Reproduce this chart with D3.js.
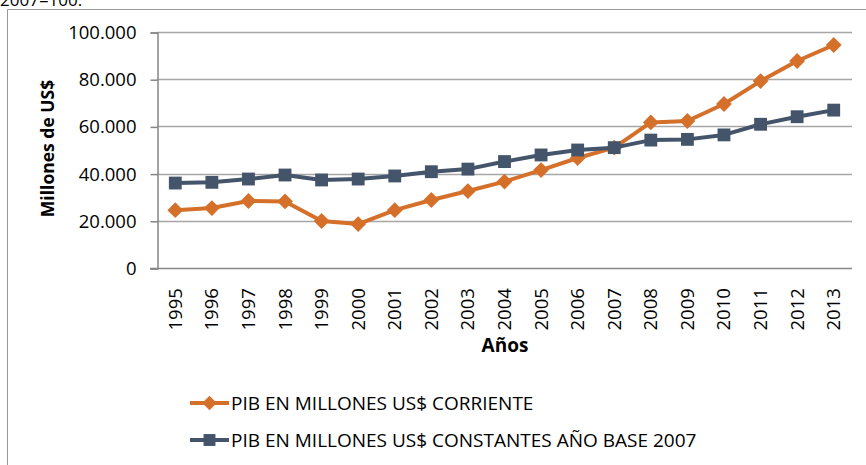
<!DOCTYPE html>
<html lang="es">
<head>
<meta charset="UTF-8">
<script src="https://d3js.org/d3.v7.min.js"></script>
<style>
  body { margin: 0; padding: 0; background: #fff; font-family: "Open Sans", Arial, sans-serif; }
  #chart { width: 866px; height: 465px; }
</style>
</head>
<body>
<div id="chart"></div>
<script>
  // data (millones de US$)
  const years = ["1995","1996","1997","1998","1999","2000","2001","2002","2003","2004",
                 "2005","2006","2007","2008","2009","2010","2011","2012","2013"];
  const corriente = [24.5, 25.4, 28.4, 28.2, 19.9, 18.6, 24.5, 28.8, 32.6, 36.6,
                     41.5, 46.6, 51.0, 61.7, 62.3, 69.5, 79.2, 87.7, 94.5].map(v => v * 1000);
  const constantes = [36.0, 36.3, 37.7, 39.4, 37.3, 37.7, 39.0, 40.8, 41.9, 45.1,
                      47.9, 50.0, 51.0, 54.2, 54.5, 56.4, 60.9, 64.1, 66.9].map(v => v * 1000);
  const yTicks = [0, 20000, 40000, 60000, 80000, 100000];
  const seriesNames = ["PIB EN MILLONES US$ CORRIENTE", "PIB EN MILLONES US$ CONSTANTES AÑO BASE 2007"];

  const width = 866, height = 465;
  const orange = "#D5702B", slate = "#44546A";
  const font = "'Open Sans', Arial, sans-serif";

  const svg = d3.select("#chart").append("svg")
    .attr("width", width).attr("height", height)
    .attr("font-family", font);

  // caption cut off at the top (it is cut in the original too)
  svg.append("text").attr("x", 0).attr("y", 6)
    .attr("font-size", 17).attr("fill", "#000").text("2007=100.");

  // outer frame
  svg.append("path")
    .attr("d", `M7.5,${height} V9.5 H${width}`)
    .attr("fill", "none").attr("stroke", "#9a9a9a").attr("stroke-width", 1);

  const x = d3.scaleBand().domain(years).range([157, 852]);
  const y = d3.scaleLinear().domain([0, 100000]).range([268, 32]);

  const fmt = d => d === 0 ? "0" : d3.format(",")(d).replace(/,/g, ".");

  // gridlines
  svg.append("g").selectAll("line").data(yTicks.filter(d => d > 0)).enter()
    .append("line")
    .attr("x1", 157).attr("x2", 852)
    .attr("y1", d => Math.round(y(d)) + 0.5).attr("y2", d => Math.round(y(d)) + 0.5)
    .attr("stroke", "#a6a6a6").attr("stroke-width", 1.3);

  // y axis
  const yAxis = svg.append("g").attr("transform", "translate(157.5,0.5)")
    .call(d3.axisLeft(y).tickValues(yTicks).tickFormat(fmt).tickSize(7).tickPadding(14));
  yAxis.select(".domain").attr("stroke", "#868686").attr("stroke-width", 1.5);
  yAxis.selectAll(".tick line").attr("stroke", "#868686").attr("stroke-width", 1.5);
  yAxis.selectAll(".tick text").attr("font-size", 18.5).attr("fill", "#000")
    .attr("font-family", font);

  // x axis, years rotated
  const xAxis = svg.append("g").attr("transform", "translate(0,268.5)")
    .call(d3.axisBottom(x).tickSize(0).tickPadding(0));
  xAxis.select(".domain").attr("d", "M150,0H852").attr("stroke", "#868686").attr("stroke-width", 1.5);
  xAxis.selectAll(".tick text")
    .attr("font-size", 18.5).attr("fill", "#000")
    .attr("font-family", font)
    .attr("text-anchor", "start")
    .attr("dy", "0.35em").attr("x", 0).attr("y", 0)
    .attr("transform", "translate(0,62) rotate(-90)");

  // axis titles
  svg.append("text").attr("transform", "translate(54,148.5) rotate(-90)")
    .attr("text-anchor", "middle").attr("font-size", 17.5).attr("font-weight", "bold")
    .text("Millones de US$");
  svg.append("text").attr("x", 505).attr("y", 352)
    .attr("text-anchor", "middle").attr("font-size", 19).attr("font-weight", "bold")
    .text("Años");

  const cx = d => x(d) + x.bandwidth() / 2;
  const line = d3.line().x(d => cx(d.year)).y(d => y(d.value));
  const diamond = d3.symbol().type(d3.symbolDiamond2).size(160);
  const square = d3.symbol().type(d3.symbolSquare2).size(210);

  function drawSeries(values, color, sym) {
    const pts = years.map((yr, i) => ({ year: yr, value: values[i] }));
    svg.append("path").datum(pts).attr("d", line)
      .attr("fill", "none").attr("stroke", color).attr("stroke-width", 4)
      .attr("stroke-linejoin", "round");
    svg.append("g").selectAll("path").data(pts).enter().append("path")
      .attr("transform", d => `translate(${cx(d.year)},${y(d.value)})`)
      .attr("d", sym).attr("fill", color);
  }
  drawSeries(corriente, orange, diamond);
  drawSeries(constantes, slate, square);

  // legend
  const legend = svg.append("g");
  const legendRows = [
    { name: seriesNames[0], color: orange, sym: d3.symbol().type(d3.symbolDiamond2).size(130), y: 403 },
    { name: seriesNames[1], color: slate, sym: d3.symbol().type(d3.symbolSquare2).size(180), y: 440 }
  ];
  legendRows.forEach(r => {
    legend.append("line").attr("x1", 190).attr("x2", 229).attr("y1", r.y).attr("y2", r.y)
      .attr("stroke", r.color).attr("stroke-width", 4);
    legend.append("path").attr("transform", `translate(209.5,${r.y})`).attr("d", r.sym).attr("fill", r.color);
    legend.append("text").attr("x", 231).attr("y", r.y).attr("dy", "0.35em")
      .attr("font-size", 19).attr("fill", "#000").text(r.name);
  });
</script>
</body>
</html>
